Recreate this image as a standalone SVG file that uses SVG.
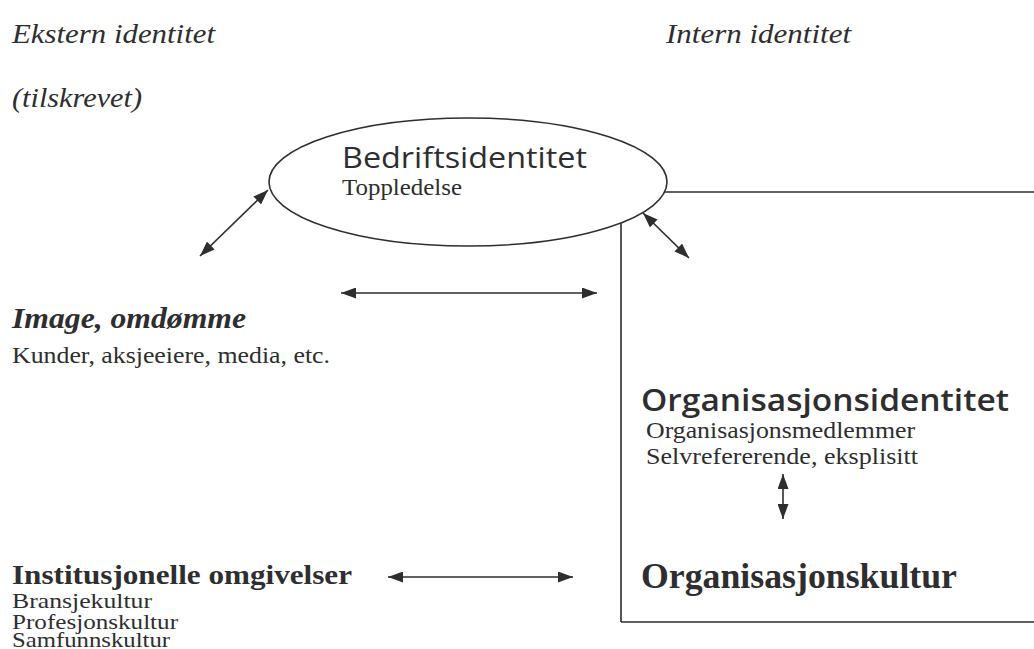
<svg xmlns="http://www.w3.org/2000/svg" width="1034" height="649" viewBox="0 0 1034 649">
<style>
.serif{font-family:"Liberation Serif","Times New Roman",serif;fill:#2e2e30}
.sans{font-family:"Open Sans","DejaVu Sans",sans-serif;fill:#2e2e30}
.it{font-style:italic}
.b{font-weight:bold}
.ln{stroke:#2e2e30;stroke-width:1.6;fill:none}
.conn line{stroke:#2e2e30;stroke-width:1.6;marker-start:url(#ah);marker-end:url(#ah)}
</style>
<defs>
<marker id="ah" viewBox="0 0 15 11" refX="15" refY="5.5" markerWidth="15" markerHeight="11" orient="auto-start-reverse" markerUnits="userSpaceOnUse">
<path d="M0,0 L15,5.5 L0,11 z" fill="#2e2e30"/>
</marker>
</defs>
<rect width="1034" height="649" fill="#fff"/>
<g id="headers">
<text class="serif it" x="12" y="43" font-size="27" textLength="203" lengthAdjust="spacingAndGlyphs">Ekstern identitet</text>
<text class="serif it" x="12" y="107" font-size="27" textLength="130" lengthAdjust="spacingAndGlyphs">(tilskrevet)</text>
<text class="serif it" x="666" y="43" font-size="27" textLength="185" lengthAdjust="spacingAndGlyphs">Intern identitet</text>
</g>
<g id="organisasjon">
<path class="ln" d="M621,622 L621,192 L1040,192 M621,622 L1040,622"/>
<text class="sans" x="641" y="411" font-size="30" font-weight="600" textLength="368" lengthAdjust="spacingAndGlyphs">Organisasjonsidentitet</text>
<text class="serif" x="646" y="438" font-size="23" textLength="269" lengthAdjust="spacingAndGlyphs">Organisasjonsmedlemmer</text>
<text class="serif" x="646" y="464" font-size="23" textLength="272" lengthAdjust="spacingAndGlyphs">Selvrefererende, eksplisitt</text>
<text class="serif b" x="641" y="588" font-size="35" textLength="316" lengthAdjust="spacingAndGlyphs">Organisasjonskultur</text>
</g>
<g id="bedrift">
<ellipse cx="468" cy="182" rx="199" ry="64" fill="#fff" stroke="#2e2e30" stroke-width="1.6"/>
<text class="sans" x="342" y="168" font-size="30" textLength="245" lengthAdjust="spacingAndGlyphs">Bedriftsidentitet</text>
<text class="serif" x="342" y="195" font-size="24" textLength="120" lengthAdjust="spacingAndGlyphs">Toppledelse</text>
</g>
<g id="image">
<text class="serif it b" x="12" y="328" font-size="29" textLength="234" lengthAdjust="spacingAndGlyphs">Image, omdømme</text>
<text class="serif" x="12" y="363" font-size="24" textLength="318" lengthAdjust="spacingAndGlyphs">Kunder, aksjeeiere, media, etc.</text>
</g>
<g id="institusjonelle">
<text class="serif b" x="12" y="584" font-size="28" textLength="340" lengthAdjust="spacingAndGlyphs">Institusjonelle omgivelser</text>
<text class="serif" x="12" y="608" font-size="21" textLength="140" lengthAdjust="spacingAndGlyphs">Bransjekultur</text>
<text class="serif" x="12" y="629" font-size="21" textLength="166" lengthAdjust="spacingAndGlyphs">Profesjonskultur</text>
<text class="serif" x="12" y="647" font-size="21" textLength="158" lengthAdjust="spacingAndGlyphs">Samfunnskultur</text>
</g>
<g class="conn" id="connectors">
<line x1="200" y1="256" x2="268" y2="190"/>
<line x1="341" y1="293" x2="597" y2="293"/>
<line x1="643" y1="213" x2="689" y2="258"/>
<line x1="783" y1="474" x2="783" y2="519"/>
<line x1="388" y1="577" x2="573" y2="577"/>
</g>
</svg>
